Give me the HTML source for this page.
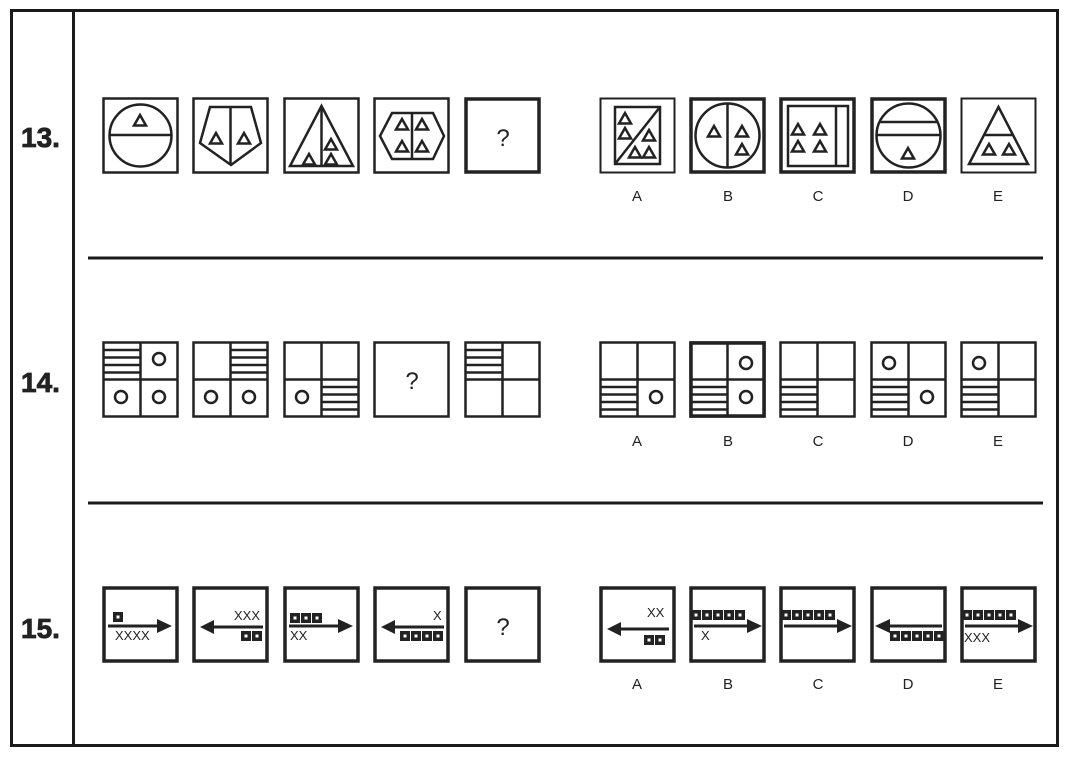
<!DOCTYPE html>
<html><head><meta charset="utf-8"><style>
html,body{margin:0;padding:0;background:#fff;}
svg{display:block;}
text{font-family:"Liberation Sans",sans-serif;fill:#222;}
</style></head><body>
<svg width="1067" height="758" viewBox="0 0 1067 758" xmlns="http://www.w3.org/2000/svg">
<defs>
<path id="t" d="M0,-6 L-6,4.5 L6,4.5 Z" fill="none" stroke="#222" stroke-width="2.5"/>
<g id="sq"><rect x="0" y="0" width="10" height="10" fill="#222"/><rect x="3.5" y="3.5" width="3" height="3" fill="#fff"/></g>
<g id="hatch"><line x1="0" y1="7.5" x2="38" y2="7.5"/><line x1="0" y1="15" x2="38" y2="15"/><line x1="0" y1="22.5" x2="38" y2="22.5"/><line x1="0" y1="30" x2="38" y2="30"/></g>
<g id="quad" fill="none" stroke="#222" stroke-width="2.5"><rect x="1.5" y="1.5" width="74" height="74"/><line x1="38.5" y1="1.5" x2="38.5" y2="75.5"/><line x1="1.5" y1="38.5" x2="75.5" y2="38.5"/></g>
</defs>

<rect x="11.5" y="10.5" width="1046" height="735" fill="none" stroke="#1a1a1a" stroke-width="3"/>
<line x1="73.5" y1="10" x2="73.5" y2="746" stroke="#1a1a1a" stroke-width="3"/>
<line x1="88" y1="258" x2="1043" y2="258" stroke="#1a1a1a" stroke-width="3"/>
<line x1="88" y1="503" x2="1043" y2="503" stroke="#1a1a1a" stroke-width="3"/>
<g font-size="28" font-weight="bold" stroke="#222" stroke-width="0.8">
<text x="21" y="147">13.</text>
<text x="21" y="392">14.</text>
<text x="21" y="638">15.</text>
</g>

<g fill="none" stroke="#222" stroke-width="2.5">
<g transform="translate(102,97)">
 <rect x="1.5" y="1.5" width="74" height="74"/>
 <circle cx="38.5" cy="38.5" r="31"/><line x1="7.5" y1="38" x2="69.5" y2="38"/>
 <use href="#t" x="38" y="24"/>
</g>
<g transform="translate(192,97)">
 <rect x="1.5" y="1.5" width="74" height="74"/>
 <path d="M18,10 L59,10 L69,46 L39,68 L8,46 Z"/><line x1="38.5" y1="10" x2="38.5" y2="68"/>
 <use href="#t" x="24" y="42"/><use href="#t" x="52" y="42"/>
</g>
<g transform="translate(283,97)">
 <rect x="1.5" y="1.5" width="74" height="74"/>
 <path d="M38.5,9 L70,69 L7,69 Z"/><line x1="38.5" y1="9" x2="38.5" y2="69"/>
 <use href="#t" x="48" y="48"/><use href="#t" x="26" y="63"/><use href="#t" x="48" y="63"/>
</g>
<g transform="translate(373,97)">
 <rect x="1.5" y="1.5" width="74" height="74"/>
 <path d="M7,39 L19,16 L60,16 L71,39 L60,62 L19,62 Z"/><line x1="39" y1="16" x2="39" y2="62"/>
 <use href="#t" x="29" y="28"/><use href="#t" x="49" y="28"/><use href="#t" x="29" y="50"/><use href="#t" x="49" y="50"/>
</g>
<g transform="translate(464,97)">
 <rect x="2" y="2" width="73" height="73" stroke-width="3.5"/>
</g>
</g>
<text x="503" y="146" font-size="24" text-anchor="middle">?</text>

<g fill="none" stroke="#222" stroke-width="2.5">
<g transform="translate(599,97)">
 <rect x="1.5" y="1.5" width="74" height="74" stroke-width="2"/>
 <rect x="16" y="10" width="45" height="57"/><line x1="61" y1="10" x2="16" y2="67"/>
 <use href="#t" x="26" y="22"/><use href="#t" x="26" y="37"/><use href="#t" x="50" y="39"/><use href="#t" x="36" y="56"/><use href="#t" x="50" y="56"/>
</g>
<g transform="translate(689,97)">
 <rect x="2" y="2" width="73" height="73" stroke-width="3.5"/>
 <circle cx="38.5" cy="38.5" r="32"/><line x1="38.5" y1="6.5" x2="38.5" y2="70.5"/>
 <use href="#t" x="25" y="35"/><use href="#t" x="53" y="35"/><use href="#t" x="53" y="53"/>
</g>
<g transform="translate(779,97)">
 <rect x="2" y="2" width="73" height="73" stroke-width="3.5"/>
 <rect x="9" y="9" width="60" height="60"/><line x1="57" y1="9" x2="57" y2="69"/>
 <use href="#t" x="19" y="33"/><use href="#t" x="41" y="33"/><use href="#t" x="19" y="50"/><use href="#t" x="41" y="50"/>
</g>
<g transform="translate(870,97)">
 <rect x="2" y="2" width="73" height="73" stroke-width="3.5"/>
 <circle cx="38.5" cy="38.5" r="32"/><line x1="9" y1="25" x2="68" y2="25"/><line x1="7" y1="38" x2="70" y2="38"/>
 <use href="#t" x="38" y="57"/>
</g>
<g transform="translate(960,97)">
 <rect x="1.5" y="1.5" width="74" height="74" stroke-width="2"/>
 <path d="M38.5,10 L68,67 L9,67 Z"/><line x1="24" y1="38" x2="53" y2="38"/>
 <use href="#t" x="29" y="53"/><use href="#t" x="49" y="53"/>
</g>
</g>
<g font-size="15" text-anchor="middle">
<text x="637" y="201">A</text><text x="728" y="201">B</text><text x="818" y="201">C</text><text x="908" y="201">D</text><text x="998" y="201">E</text>
</g>

<g fill="none" stroke="#222" stroke-width="2.5">
<g transform="translate(102,341)"><use href="#quad"/><g transform="translate(1.5,1.5)"><use href="#hatch"/></g><circle cx="57" cy="18" r="6"/><circle cx="19" cy="56" r="6"/><circle cx="57" cy="56" r="6"/></g>
<g transform="translate(192,341)"><use href="#quad"/><g transform="translate(38.5,1.5)"><use href="#hatch"/></g><circle cx="19" cy="56" r="6"/><circle cx="57" cy="56" r="6"/></g>
<g transform="translate(283,341)"><use href="#quad"/><g transform="translate(38.5,38.5)"><use href="#hatch"/></g><circle cx="19" cy="56" r="6"/></g>
<g transform="translate(373,341)"><rect x="1.5" y="1.5" width="74" height="74"/></g>
<g transform="translate(464,341)"><use href="#quad"/><g transform="translate(1.5,1.5)"><use href="#hatch"/></g></g>

<g transform="translate(599,341)"><use href="#quad"/><g transform="translate(1.5,38.5)"><use href="#hatch"/></g><circle cx="57" cy="56" r="6"/></g>
<g transform="translate(689,341)"><use href="#quad"/><rect x="2" y="2" width="73" height="73" stroke-width="3.5"/><g transform="translate(1.5,38.5)"><use href="#hatch"/></g><circle cx="57" cy="22" r="6"/><circle cx="57" cy="56" r="6"/></g>
<g transform="translate(779,341)"><use href="#quad"/><g transform="translate(1.5,38.5)"><use href="#hatch"/></g></g>
<g transform="translate(870,341)"><use href="#quad"/><g transform="translate(1.5,38.5)"><use href="#hatch"/></g><circle cx="19" cy="22" r="6"/><circle cx="57" cy="56" r="6"/></g>
<g transform="translate(960,341)"><use href="#quad"/><g transform="translate(1.5,38.5)"><use href="#hatch"/></g><circle cx="19" cy="22" r="6"/></g>
</g>
<text x="412" y="389" font-size="24" text-anchor="middle">?</text>
<g font-size="15" text-anchor="middle">
<text x="637" y="446">A</text><text x="728" y="446">B</text><text x="818" y="446">C</text><text x="908" y="446">D</text><text x="998" y="446">E</text>
</g>

<g font-size="13">
<g transform="translate(102,586)">
 <rect x="2" y="2" width="73" height="73" fill="none" stroke="#222" stroke-width="3.5"/>
 <line x1="6" y1="40" x2="57" y2="40" stroke="#222" stroke-width="3"/><path d="M55,33 L70,40 L55,47 Z" fill="#222"/>
 <use href="#sq" x="11" y="26"/>
 <text x="13" y="54">XXXX</text>
</g>
<g transform="translate(192,586)">
 <rect x="2" y="2" width="73" height="73" fill="none" stroke="#222" stroke-width="3.5"/>
 <line x1="20" y1="41" x2="71" y2="41" stroke="#222" stroke-width="3"/><path d="M22,34 L8,41 L22,48 Z" fill="#222"/>
 <text x="42" y="34">XXX</text>
 <use href="#sq" x="49" y="45"/><use href="#sq" x="60" y="45"/>
</g>
<g transform="translate(283,586)">
 <rect x="2" y="2" width="73" height="73" fill="none" stroke="#222" stroke-width="3.5"/>
 <line x1="6" y1="40" x2="57" y2="40" stroke="#222" stroke-width="3"/><path d="M55,33 L70,40 L55,47 Z" fill="#222"/>
 <use href="#sq" x="7" y="27"/><use href="#sq" x="18" y="27"/><use href="#sq" x="29" y="27"/>
 <text x="7" y="54">XX</text>
</g>
<g transform="translate(373,586)">
 <rect x="2" y="2" width="73" height="73" fill="none" stroke="#222" stroke-width="3.5"/>
 <line x1="20" y1="41" x2="71" y2="41" stroke="#222" stroke-width="3"/><path d="M22,34 L8,41 L22,48 Z" fill="#222"/>
 <text x="60" y="34">X</text>
 <use href="#sq" x="27" y="45"/><use href="#sq" x="38" y="45"/><use href="#sq" x="49" y="45"/><use href="#sq" x="60" y="45"/>
</g>
<g transform="translate(464,586)">
 <rect x="2" y="2" width="73" height="73" fill="none" stroke="#222" stroke-width="3.5"/>
</g>

<g transform="translate(599,586)">
 <rect x="2" y="2" width="73" height="73" fill="none" stroke="#222" stroke-width="3.5"/>
 <line x1="20" y1="43" x2="70" y2="43" stroke="#222" stroke-width="3"/><path d="M22,36 L8,43 L22,50 Z" fill="#222"/>
 <text x="48" y="31">XX</text>
 <use href="#sq" x="45" y="49"/><use href="#sq" x="56" y="49"/>
</g>
<g transform="translate(689,586)">
 <rect x="2" y="2" width="73" height="73" fill="none" stroke="#222" stroke-width="3.5"/>
 <use href="#sq" x="2" y="24"/><use href="#sq" x="13" y="24"/><use href="#sq" x="24" y="24"/><use href="#sq" x="35" y="24"/><use href="#sq" x="46" y="24"/>
 <line x1="5" y1="40" x2="60" y2="40" stroke="#222" stroke-width="3"/><path d="M58,33 L73,40 L58,47 Z" fill="#222"/>
 <text x="12" y="54">X</text>
</g>
<g transform="translate(779,586)">
 <rect x="2" y="2" width="73" height="73" fill="none" stroke="#222" stroke-width="3.5"/>
 <use href="#sq" x="2" y="24"/><use href="#sq" x="13" y="24"/><use href="#sq" x="24" y="24"/><use href="#sq" x="35" y="24"/><use href="#sq" x="46" y="24"/>
 <line x1="5" y1="40" x2="60" y2="40" stroke="#222" stroke-width="3"/><path d="M58,33 L73,40 L58,47 Z" fill="#222"/>
</g>
<g transform="translate(870,586)">
 <rect x="2" y="2" width="73" height="73" fill="none" stroke="#222" stroke-width="3.5"/>
 <line x1="18" y1="40" x2="72" y2="40" stroke="#222" stroke-width="3"/><path d="M20,33 L5,40 L20,47 Z" fill="#222"/>
 <use href="#sq" x="20" y="45"/><use href="#sq" x="31" y="45"/><use href="#sq" x="42" y="45"/><use href="#sq" x="53" y="45"/><use href="#sq" x="64" y="45"/>
</g>
<g transform="translate(960,586)">
 <rect x="2" y="2" width="73" height="73" fill="none" stroke="#222" stroke-width="3.5"/>
 <use href="#sq" x="2" y="24"/><use href="#sq" x="13" y="24"/><use href="#sq" x="24" y="24"/><use href="#sq" x="35" y="24"/><use href="#sq" x="46" y="24"/>
 <line x1="5" y1="40" x2="60" y2="40" stroke="#222" stroke-width="3"/><path d="M58,33 L73,40 L58,47 Z" fill="#222"/>
 <text x="4" y="56">XXX</text>
</g>
</g>
<text x="503" y="635" font-size="24" text-anchor="middle">?</text>
<g font-size="15" text-anchor="middle">
<text x="637" y="689">A</text><text x="728" y="689">B</text><text x="818" y="689">C</text><text x="908" y="689">D</text><text x="998" y="689">E</text>
</g>
</svg>
</body></html>
